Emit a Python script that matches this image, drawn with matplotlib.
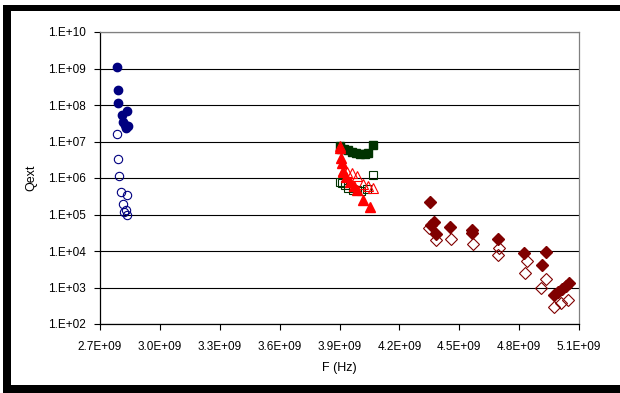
import math
import matplotlib
matplotlib.use("Agg")
import matplotlib.pyplot as plt
from matplotlib.patches import Rectangle
from matplotlib.ticker import FixedLocator, FuncFormatter, NullLocator

# frequency in GHz, Qext values
blue_fill_f = [2.785, 2.790, 2.792, 2.834, 2.809, 2.817, 2.831, 2.825, 2.840]
blue_fill_q = [1.1e9, 2.6e8, 1.1e8, 6.9e7, 5.3e7, 3.5e7, 2.3e7, 2.8e7, 2.6e7]
blue_open_f = [2.784, 2.792, 2.795, 2.805, 2.837, 2.817, 2.831, 2.822, 2.834]
blue_open_q = [1.58e7, 3.3e6, 1.1e6, 4.2e5, 3.5e5, 2.0e5, 1.3e5, 1.2e5, 1.0e5]

green_fill_f = [3.905, 3.910, 3.925, 3.945, 3.965, 3.985, 4.005, 4.026, 4.041, 4.066]
green_fill_q = [7.5e6, 6.2e6, 6.2e6, 5.8e6, 5.1e6, 4.8e6, 4.6e6, 4.6e6, 4.8e6, 8.0e6]
green_open_f = [3.905, 3.915, 3.930, 3.945, 3.970, 3.990, 4.010, 4.036, 4.066]
green_open_q = [7.8e5, 7.2e5, 6.4e5, 5.4e5, 4.7e5, 4.7e5, 4.4e5, 5.0e5, 1.2e6]

red_fill_f = [3.905, 3.910, 3.915, 3.920, 3.935, 3.955, 3.975, 3.990, 4.020, 4.055]
red_fill_q = [6.6e6, 3.5e6, 2.6e6, 1.6e6, 1.07e6, 7.8e5, 6.0e5, 4.7e5, 2.5e5, 1.6e5]
red_open_f = [3.905, 3.920, 3.940, 3.965, 3.990, 4.020, 4.045, 4.066]
red_open_q = [7.5e6, 1.5e6, 1.5e6, 1.4e6, 1.1e6, 6.8e5, 6.0e5, 5.4e5]

dia_fill_f = [4.352, 4.372, 4.357, 4.382, 4.452, 4.563, 4.563, 4.693, 4.824, 4.934,
              4.914, 4.975, 4.995, 5.015, 5.035, 5.050]
dia_fill_q = [2.2e5, 6.3e4, 5.1e4, 3.0e4, 4.5e4, 3.8e4, 3.2e4, 2.2e4, 8.9e3, 9.5e3,
              4.1e3, 620, 750, 910, 1.1e3, 1.3e3]
dia_open_f = [4.347, 4.382, 4.457, 4.568, 4.698, 4.693, 4.839, 4.829, 4.934, 4.909,
              4.975, 5.010, 5.045]
dia_open_q = [4.2e4, 2.0e4, 2.2e4, 1.6e4, 1.2e4, 7.8e3, 5.4e3, 2.5e3, 1.7e3, 1.0e3,
              300, 370, 460]

x_ticks = [2.7, 3.0, 3.3, 3.6, 3.9, 4.2, 4.5, 4.8, 5.1]
y_ticks = [1e2, 1e3, 1e4, 1e5, 1e6, 1e7, 1e8, 1e9, 1e10]

plt.rcParams['font.family'] = ['Liberation Sans', 'DejaVu Sans']

fig = plt.figure(figsize=(6.2, 3.93), dpi=100)
ax = fig.add_axes([100 / 620, 1 - 324 / 393, 479 / 620, 292 / 393])

navy = '#000080'
green = '#003300'
red = '#ff0000'
maroon = '#800000'

def gx(vals):
    return [v * 1e9 for v in vals]

ax.plot(gx(blue_fill_f), blue_fill_q, 'o', ms=6, color=navy, mec=navy)
ax.plot(gx(blue_open_f), blue_open_q, 'o', ms=6, mfc='none', mec=navy, mew=0.8)
ax.plot(gx(green_fill_f), green_fill_q, 's', ms=6, color=green, mec=green)
ax.plot(gx(green_open_f), green_open_q, 's', ms=6, mfc='none', mec=green, mew=0.8)
ax.plot(gx(red_fill_f), red_fill_q, '^', ms=6.5, color=red, mec=red)
ax.plot(gx(red_open_f), red_open_q, '^', ms=6.5, mfc='none', mec=red, mew=0.8)
ax.plot(gx(dia_fill_f), dia_fill_q, 'D', ms=6, color=maroon, mec=maroon)
ax.plot(gx(dia_open_f), dia_open_q, 'D', ms=6, mfc='none', mec=maroon, mew=0.8)

ax.set_yscale('log')
ax.set_xlim(2.7e9, 5.1e9)
ax.set_ylim(1e2, 1e10)
ax.xaxis.set_major_locator(FixedLocator(gx(x_ticks)))
ax.yaxis.set_major_locator(FixedLocator(y_ticks))
ax.yaxis.set_minor_locator(NullLocator())
ax.xaxis.set_major_formatter(FuncFormatter(lambda v, p: f"{v / 1e9:.1f}E+09"))
ax.yaxis.set_major_formatter(FuncFormatter(lambda v, p: f"1.E+{round(math.log10(v)):02d}"))

ax.set_axisbelow(True)
ax.yaxis.grid(True, color='black', lw=0.8)
for s in ('top', 'right'):
    ax.spines[s].set_color('#808080')
    ax.spines[s].set_linewidth(0.9)
for s in ('left', 'bottom'):
    ax.spines[s].set_color('black')
    ax.spines[s].set_linewidth(0.9)

ax.tick_params(axis='both', direction='out', length=4, width=0.8, labelsize=8.5)
ax.tick_params(axis='y', pad=6)
ax.tick_params(axis='x', pad=8)

ax.set_xlabel('F (Hz)', fontsize=9, labelpad=7)
ax.set_ylabel('Qext', fontsize=9, labelpad=8)

# black frame around the chart
fig.add_artist(Rectangle((3 / 620, 0), 8 / 620, 388 / 393, transform=fig.transFigure,
                         color='black', lw=0))
fig.add_artist(Rectangle((3 / 620, 1 - 11 / 393), 617 / 620, 6 / 393, transform=fig.transFigure,
                         color='black', lw=0))
fig.add_artist(Rectangle((3 / 620, 0), 617 / 620, 8 / 393, transform=fig.transFigure,
                         color='black', lw=0))

fig.savefig('out.png', dpi=100)
